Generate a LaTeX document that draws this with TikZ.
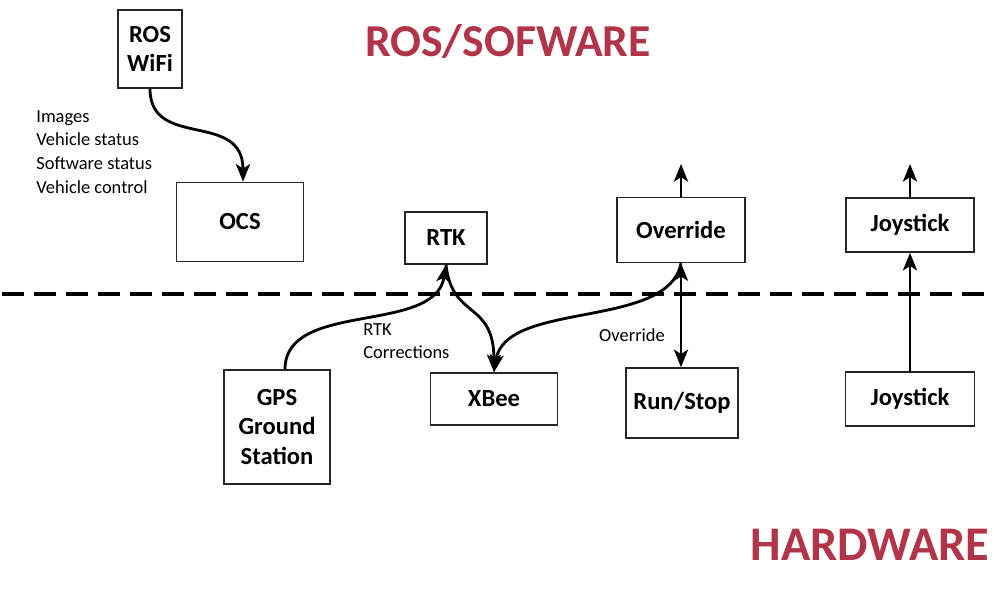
\documentclass[tikz,border=0pt]{standalone}
\usepackage{fontspec}
\setmainfont{Carlito}
\usetikzlibrary{arrows.meta}
\definecolor{titlered}{RGB}{178,52,72}
\tikzset{
  block/.style={rectangle, draw=black!85, line width=0.9pt, text centered, align=center,
    inner sep=0pt, font=\fontsize{14}{17}\selectfont\bfseries},
  flow/.style={line width=1.6pt, -{Stealth[length=10pt,width=8pt,inset=2.5pt]}},
  tag/.style={align=left, inner sep=0pt, font=\fontsize{10.5}{13.5}\selectfont},
  heading/.style={text=titlered, inner sep=0pt, font=\bfseries},
}
\begin{document}
\begin{tikzpicture}[x=0.02cm, y=-0.02cm]
				\useasboundingbox (0,0) rectangle (994,591);

				% Titles
				\node (sw) [heading, font=\fontsize{26}{31}\selectfont\bfseries] at (508,42) {ROS/SOFWARE};
				\node (hw) [heading, font=\fontsize{27.5}{33}\selectfont\bfseries] at (870,545) {HARDWARE};

				% Dashed separation line
				\draw[line width=2.2pt, dash pattern=on 0.44cm off 0.2cm] (2,294) -- (994,294);

				% Nodes
				\node (wifi) [block, minimum width=1.28cm, minimum height=1.56cm] at (150,49) {ROS\\WiFi};
				\node (ocs) [block, minimum width=2.54cm, minimum height=1.58cm] at (240,222) {OCS};
				\node (rtk) [block, minimum width=1.64cm, minimum height=1.04cm] at (446,238) {RTK};
				\node (override) [block, minimum width=2.56cm, minimum height=1.3cm] at (681,230) {Override};
				\node (joySw) [block, minimum width=2.56cm, minimum height=1.08cm] at (910,225) {Joystick};
				\node (gps) [block, minimum width=2.12cm, minimum height=2.28cm] at (277,427) {GPS\\Ground\\Station};
				\node (xbee) [block, minimum width=2.54cm, minimum height=1.04cm] at (494,399) {XBee};
				\node (runstop) [block, minimum width=2.24cm, minimum height=1.4cm] at (682,403) {Run/Stop};
				\node (joyHw) [block, minimum width=2.58cm, minimum height=1.08cm] at (910,399) {Joystick};

				% Labels
				\node (data) [tag, anchor=north west] at (36,110) {Images\\Vehicle status\\Software status\\Vehicle control};
				\node (corr) [tag, anchor=north west] at (363,323) {RTK\\Corrections};
				\node (ovr) [tag] at (632,335) {Override};

				% Free ends
				\coordinate (ovUp) at (681,164);
				\coordinate (joyUp) at (910,164);

				% Arrows
				\draw[flow] (wifi.south) .. controls (150,150) and (243,110) .. (ocs.north -| 243,0);
				\draw[flow] ([xshift=0.16cm]gps.north) .. controls (285,300) and (435,335) .. (rtk.south);
				\draw[flow] (rtk.south) .. controls (452,320) and (494,300) .. (xbee.north);
				\draw[flow] (override.south) .. controls (668,330) and (505,300) .. (xbee.north);
				\draw[flow, {Stealth[length=10pt,width=8pt,inset=2.5pt]}-{Stealth[length=10pt,width=8pt,inset=2.5pt]}] (override.south) -- (runstop.north -| override.south);
				\draw[flow] (override.north) -- (ovUp);
				\draw[flow] (joyHw.north) -- (joySw.south);
				\draw[flow] (joySw.north) -- (joyUp);
			\end{tikzpicture}
\end{document}
